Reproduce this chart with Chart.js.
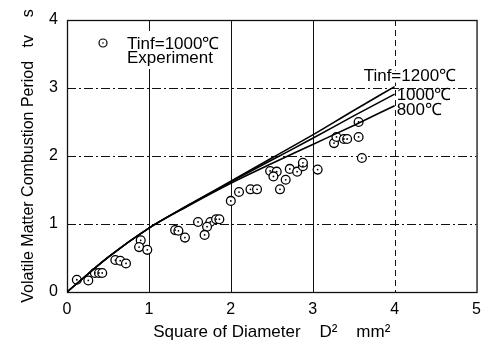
<!DOCTYPE html>
<html><head><meta charset="utf-8">
<script src="https://cdn.jsdelivr.net/npm/chart.js@4/dist/chart.umd.min.js"></script>
<style>html,body{margin:0;padding:0;background:#fff}</style>
</head><body>
<canvas id="c" width="489" height="352"></canvas>
<script>
// Experimental points (Tinf=1000℃)
const expD2 = [0.12,0.26,0.34,0.39,0.43,0.59,0.65,0.72,0.90,0.88,0.98,1.32,1.36,1.44,1.60,1.75,1.71,1.68,1.82,1.86,2.00,2.10,2.24,2.32,2.48,2.56,2.52,2.67,2.60,2.72,2.81,2.88,2.88,3.06,3.26,3.29,3.38,3.42,3.56,3.56,3.60];
const expTv = [0.18,0.17,0.28,0.28,0.28,0.47,0.46,0.42,0.76,0.66,0.62,0.91,0.90,0.80,1.03,1.03,0.96,0.84,1.07,1.07,1.34,1.47,1.51,1.51,1.78,1.77,1.70,1.65,1.51,1.81,1.77,1.85,1.90,1.80,2.19,2.28,2.25,2.25,2.28,2.50,1.97];
// Calculated curves
const curveD2 = [0,0.5,1,1.5,2,2.5,3,3.5,4];
const tv1200 = [0,0.51,0.94,1.29,1.63,1.97,2.31,2.67,3.02];
const tv1000 = [0,0.51,0.94,1.29,1.62,1.94,2.26,2.59,2.91];
const tv800  = [0,0.51,0.94,1.28,1.60,1.89,2.17,2.45,2.74];
const curveLabels = ['Tinf=1200℃','1000℃','800℃'];
const legendLines = ['Tinf=1000℃','Experiment'];
const xTicks = [0,1,2,3,4,5];
const yTicks = [0,1,2,3,4];
const xTitle = 'Square of Diameter    D²    mm²';
const yTitle = 'Volatile Matter Combustion Period   tv    s';

const FONT = '"Liberation Sans", Arial, Helvetica, sans-serif';
const pts = (xs, ys) => xs.map((x, i) => ({x, y: ys[i]}));

const gridPlugin = {
  id: 'gridPlugin',
  beforeDatasetsDraw(chart) {
    const {ctx, chartArea: a, scales: {x, y}} = chart;
    ctx.save();
    ctx.strokeStyle = '#111';
    ctx.lineWidth = 1;
    ctx.setLineDash([9, 3, 2, 3]);
    yTicks.slice(1, -1).forEach(v => {
      const py = Math.round(y.getPixelForValue(v)) + 0.5;
      ctx.beginPath(); ctx.moveTo(a.left, py); ctx.lineTo(a.right, py); ctx.stroke();
    });
    xTicks.slice(1, -1).forEach(v => {
      const px = Math.round(x.getPixelForValue(v)) + 0.5;
      ctx.setLineDash(v === 4 ? [6, 4] : []);
      ctx.beginPath(); ctx.moveTo(px, a.top); ctx.lineTo(px, a.bottom); ctx.stroke();
    });
    ctx.setLineDash([]);
    ctx.lineWidth = 1.3;
    ctx.strokeRect(a.left + 0.5, a.top + 0.5, a.right - a.left, a.bottom - a.top);
    ctx.restore();
  },
  afterDatasetsDraw(chart) {
    const {ctx, chartArea: a} = chart;
    ctx.save();
    ctx.font = '17px ' + FONT;
    ctx.textBaseline = 'middle';
    ctx.fillStyle = '#000';
    const offs = [[-31, -10], [2, 1], [2, 5]];
    [1, 2, 3].forEach((di, k) => {
      const meta = chart.getDatasetMeta(di);
      const last = meta.data[meta.data.length - 1];
      const tx = last.x + offs[k][0], ty = last.y + offs[k][1];
      const w = ctx.measureText(curveLabels[k]).width;
      ctx.fillStyle = '#fff';
      ctx.fillRect(tx, ty - 6, w, 12);
      ctx.fillStyle = '#000';
      ctx.fillText(curveLabels[k], tx, ty);
    });
    const lx = a.left + 36, ly = a.top + 23;
    const tx = lx + 24;
    const w = Math.max(...legendLines.map(s => ctx.measureText(s).width));
    ctx.fillStyle = '#fff';
    ctx.fillRect(tx - 4, ly - 12, w + 8, 38);
    ctx.fillStyle = '#000';
    legendLines.forEach((s, i) => ctx.fillText(s, tx, ly + 1 + i * 14));
    ctx.beginPath(); ctx.arc(lx, ly, 4, 0, Math.PI * 2);
    ctx.lineWidth = 1.2; ctx.strokeStyle = '#000'; ctx.stroke();
    ctx.beginPath(); ctx.arc(lx, ly, 0.8, 0, Math.PI * 2); ctx.fill();
    ctx.restore();
  }
};

new Chart(document.getElementById('c'), {
  data: {
    datasets: [
      {type: 'scatter', label: 'dot', data: pts(expD2, expTv), pointRadius: 0.9, pointBackgroundColor: '#000', pointBorderWidth: 0, pointHoverRadius: 0},
      {type: 'line', label: curveLabels[0], data: pts(curveD2, tv1200), borderColor: '#000', borderWidth: 1.6, pointRadius: 0, cubicInterpolationMode: 'monotone', fill: false},
      {type: 'line', label: curveLabels[1], data: pts(curveD2, tv1000), borderColor: '#000', borderWidth: 1.6, pointRadius: 0, cubicInterpolationMode: 'monotone', fill: false},
      {type: 'line', label: curveLabels[2], data: pts(curveD2, tv800), borderColor: '#000', borderWidth: 1.6, pointRadius: 0, cubicInterpolationMode: 'monotone', fill: false},
      {type: 'scatter', label: legendLines.join(' '), data: pts(expD2, expTv), pointRadius: 4.4, pointBorderWidth: 1.3, pointBorderColor: '#000', pointBackgroundColor: '#fff'}
    ]
  },
  options: {
    responsive: false,
    devicePixelRatio: 1,
    animation: false,
    layout: {padding: {top: 20, right: 5, left: 0, bottom: 0}},
    plugins: {legend: {display: false}, tooltip: {enabled: false}},
    scales: {
      x: {
        type: 'linear', min: 0, max: 5,
        afterBuildTicks: s => { s.ticks = xTicks.map(v => ({value: v})); },
        ticks: {padding: 8, color: '#000', font: {size: 16, family: FONT}},
        grid: {display: false, drawTicks: false},
        border: {display: false},
        title: {display: true, text: xTitle, color: '#000', font: {size: 17, family: FONT}, padding: {top: 0, bottom: 9}},
        afterFit: s => { s.height = 60; }
      },
      y: {
        type: 'linear', min: 0, max: 4,
        afterBuildTicks: s => { s.ticks = yTicks.map(v => ({value: v})); },
        ticks: {padding: 9, color: '#000', font: {size: 16, family: FONT}},
        grid: {display: false, drawTicks: false},
        border: {display: false},
        title: {display: true, text: yTitle, color: '#000', font: {size: 16, family: FONT}, padding: {top: 19, bottom: 0}},
        afterFit: s => { s.width = 67; }
      }
    }
  },
  plugins: [gridPlugin]
});
</script>
</body></html>
